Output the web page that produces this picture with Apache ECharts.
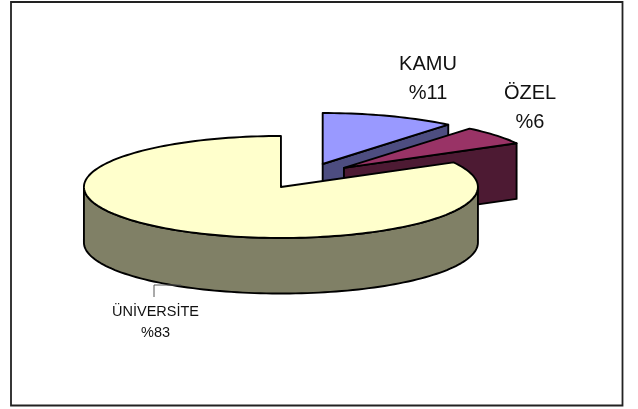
<!DOCTYPE html>
<html>
<head>
<meta charset="utf-8">
<title>Pie</title>
<style>
  html, body { margin: 0; padding: 0; background: #fff; }
  #chart { width: 638px; height: 409px; }
</style>
<script src="https://cdn.jsdelivr.net/npm/echarts@6/dist/echarts.min.js"></script>
</head>
<body>
<div id="chart"></div>
<script>
// Data
const categories = ['KAMU', 'ÖZEL', 'ÜNİVERSİTE'];
const shares = [11, 6, 83];

// Look of the slices
const topColors = ['#9999ff', '#993366', '#ffffcc'];
const wallColors = ['#4d4d80', '#4d1a33', '#808066'];
const FONT = '"Liberation Sans", Arial, sans-serif';
const EXPLODE = 0.25;    // slice offset, in radii
const THICKNESS = 1.09;  // pie height, in units of the y axis
const labelStyles = [
  { x: 428, y: 79, size: 20, lineHeight: 29 },
  { x: 530, y: 108, size: 20, lineHeight: 29 },
  { x: 155.5, y: 322, size: 14.5, lineHeight: 21 }
];

const total = shares.reduce((a, b) => a + b, 0);

// Slice start and end angles, clockwise from 12 o'clock
let running = 0;
const rows = shares.map((value, i) => {
  const start = running / total * Math.PI * 2;
  running += value;
  return [i, start, running / total * Math.PI * 2];
});

function point(cx, cy, angle) {
  return [cx + Math.sin(angle), cy + Math.cos(angle)];
}

function arcPoints(cx, cy, from, to, drop) {
  const steps = Math.max(2, Math.ceil(Math.abs(to - from) / 0.03));
  const pts = [];
  for (let i = 0; i <= steps; i++) {
    const p = point(cx, cy, from + (to - from) * i / steps);
    pts.push([p[0], p[1] - drop]);
  }
  return pts;
}

function poly(points, fill, api, z) {
  return {
    type: 'polygon',
    z2: z,
    shape: { points: points.map(p => api.coord(p)) },
    style: { fill: fill, stroke: '#000', lineWidth: 1.9, lineJoin: 'round' }
  };
}

function renderSlice(params, api) {
  const i = api.value(0);
  const start = api.value(1);
  const end = api.value(2);
  const mid = (start + end) / 2;
  const cx = Math.sin(mid) * EXPLODE;
  const cy = Math.cos(mid) * EXPLODE;
  const children = [];

  // Cut face on the clockwise side, only seen when it turns to the viewer
  if (end < Math.PI) {
    const rim = point(cx, cy, end);
    children.push(poly([
      [cx, cy], rim, [rim[0], rim[1] - THICKNESS], [cx, cy - THICKNESS]
    ], wallColors[i], api, 1));
  }

  // Outer wall, front half of the rim only
  const wallFrom = Math.max(start, Math.PI / 2);
  const wallTo = Math.min(end, Math.PI * 3 / 2);
  if (wallFrom < wallTo) {
    const upper = arcPoints(cx, cy, wallFrom, wallTo, 0);
    const lower = arcPoints(cx, cy, wallTo, wallFrom, THICKNESS);
    children.push(poly(upper.concat(lower), wallColors[i], api, 2));
  }

  // Top face
  children.push(poly(
    [[cx, cy]].concat(arcPoints(cx, cy, start, end, 0)),
    topColors[i], api, 3
  ));

  // Label
  const label = labelStyles[i];
  children.push({
    type: 'text',
    z2: 5,
    style: {
      x: label.x,
      y: label.y,
      text: categories[i] + '\n%' + shares[i],
      fill: '#111',
      font: label.size + 'px ' + FONT,
      lineHeight: label.lineHeight,
      align: 'center',
      verticalAlign: 'middle'
    }
  });

  return { type: 'group', children: children };
}

const chart = echarts.init(document.getElementById('chart'), null, { renderer: 'canvas' });

chart.setOption({
  backgroundColor: '#fff',
  animation: false,
  // Hidden axes: one unit on each is one radius of the flattened pie
  grid: { left: 109, top: 125, width: 394, height: 102 },
  xAxis: { type: 'value', min: -1, max: 1, show: false },
  yAxis: { type: 'value', min: -1, max: 1, show: false },
  graphic: [
    {
      // Chart frame
      type: 'rect',
      z: 10,
      shape: { x: 11, y: 2, width: 611.5, height: 403.5 },
      style: { fill: 'none', stroke: '#222', lineWidth: 1.8 }
    },
    {
      // Leader line of the small label
      type: 'polyline',
      z: 10,
      shape: { points: [[154, 297], [154, 285], [181, 285]] },
      style: { fill: 'none', stroke: '#555', lineWidth: 1 }
    }
  ],
  series: [{
    type: 'custom',
    coordinateSystem: 'cartesian2d',
    clip: false,
    silent: true,
    renderItem: renderSlice,
    data: rows
  }]
});
</script>
</body>
</html>
